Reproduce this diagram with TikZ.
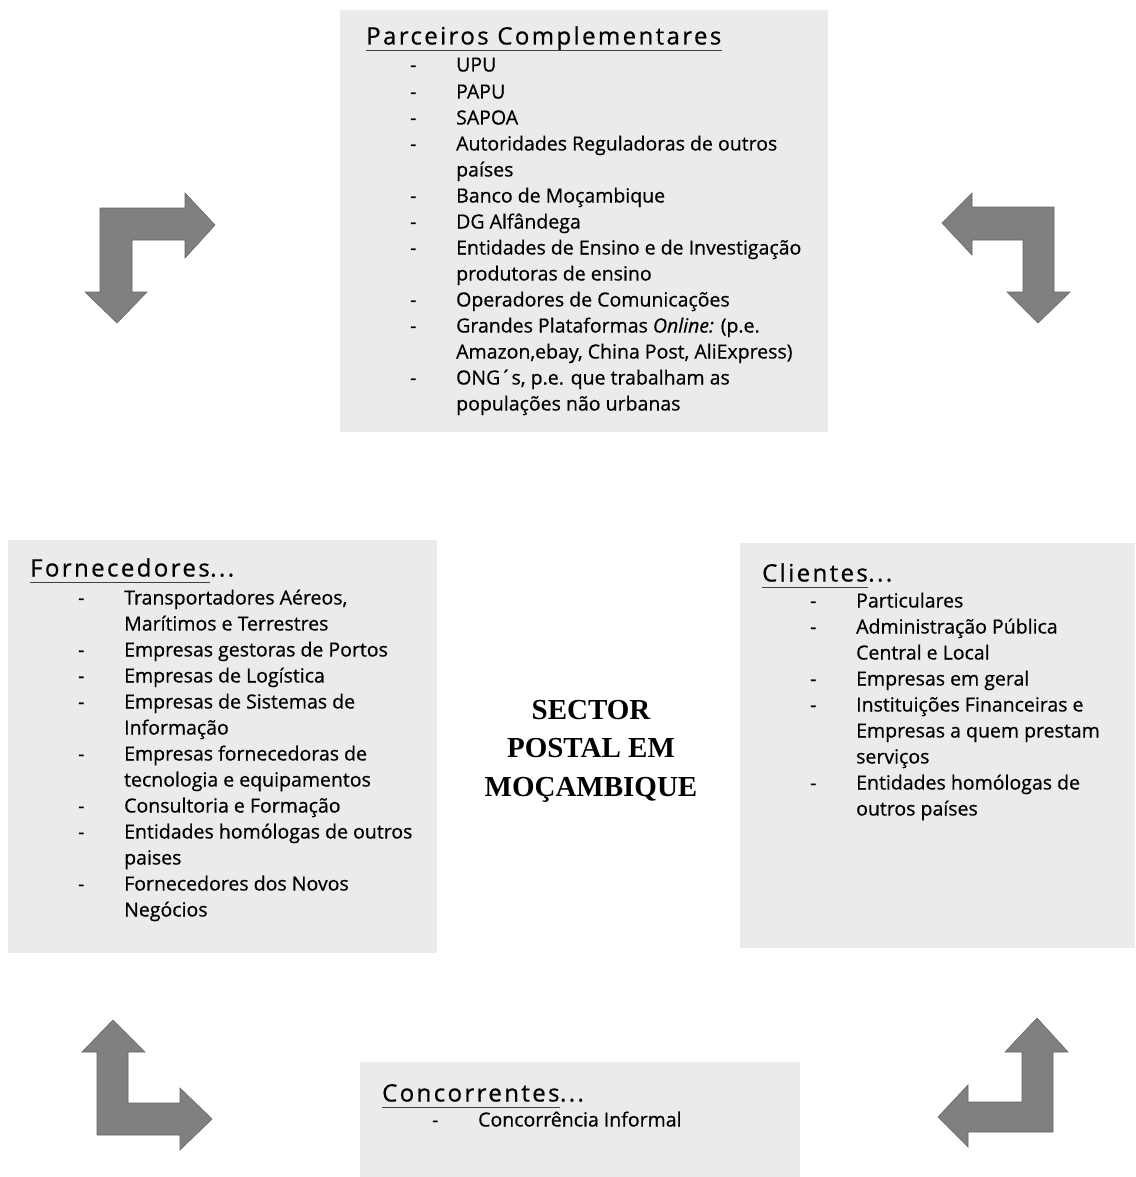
\documentclass[tikz,border=0pt]{standalone}
\usepackage{fontspec}
\setmainfont[FakeBold=0.6]{Open Sans}
\newfontfamily\headfont[LetterSpace=10,FakeBold=0.6]{Open Sans}
\newfontfamily\centerfont{Liberation Serif}
\begin{document}
\begin{tikzpicture}[x=1pt,y=-1pt,
  box/.style={fill=boxgray, draw=none, anchor=north west, inner sep=0pt},
  itm/.style={anchor=west, inner sep=0pt, font=\fontsize{19.5}{22}\selectfont, text height=14pt, text depth=5pt},
  head/.style={anchor=west, inner sep=0pt, font=\headfont\fontsize{24}{28}\selectfont, text height=18pt, text depth=5pt},
  uline/.style={draw=black!75, line width=0.9pt},
  bendarrow/.style={fill=arrowgray, draw=arrowgray!80!black, line width=0.6pt, line join=miter}
]
\definecolor{boxgray}{HTML}{EBEBEB}
\definecolor{arrowgray}{HTML}{808080}
\useasboundingbox (0,0) rectangle (1135,1177);
\fill[white] (0,0) rectangle (1135,1177);

% boxes
\node[box, minimum width=488pt, minimum height=422pt] (topbox) at (340,10) {};
\node[box, minimum width=429pt, minimum height=413pt] (leftbox) at (8,540) {};
\node[box, minimum width=395pt, minimum height=405pt] (rightbox) at (740,543) {};
\node[box, minimum width=440pt, minimum height=115pt] (botbox) at (360,1062) {};

% top box
\node[head] (h1) at (366,38) {Parceiros Complementares};
\draw[uline] ([yshift=-1pt]h1.south west) -- ([yshift=-1pt]h1.south east);
\foreach \y/\d/\t in {67/-/UPU, 94/-/PAPU, 120/-/SAPOA, 146/-/Autoridades Reguladoras de outros, 172//países, 198/-/Banco de Moçambique, 224/-/DG Alfândega, 250/-/Entidades de Ensino e de Investigação, 276//produtoras de ensino, 302/-/Operadores de Comunicações, 328/-/{Grandes Plataformas \textit{Online:} (p.e.}, 354//{Amazon,ebay, China Post, AliExpress)}, 380/-/{ONG´s, p.e. que trabalham as}, 406//populações não urbanas}{
  \node[itm] at (410,\y) {\d};
  \node[itm] at (456,\y) {\t};
}

% left box
\node[head] (h2) at (30,570) {Fornecedores};
\node[head, anchor=base west] at (h2.base east) {...};
\draw[uline] ([yshift=-1pt]h2.south west) -- ([yshift=-1pt]h2.south east);
\foreach \y/\d/\t in {600/-/{Transportadores Aéreos,}, 626//Marítimos e Terrestres, 652/-/Empresas gestoras de Portos, 678/-/Empresas de Logística, 704/-/Empresas de Sistemas de, 730//Informação, 756/-/Empresas fornecedoras de, 782//tecnologia e equipamentos, 808/-/Consultoria e Formação, 834/-/Entidades homólogas de outros, 860//paises, 886/-/Fornecedores dos Novos, 912//Negócios}{
  \node[itm] at (78,\y) {\d};
  \node[itm] at (124,\y) {\t};
}

% right box
\node[head] (h3) at (762,575) {Clientes};
\node[head, anchor=base west] at (h3.base east) {...};
\draw[uline] ([yshift=-1pt]h3.south west) -- ([yshift=-1pt]h3.south east);
\foreach \y/\d/\t in {603/-/Particulares, 629/-/Administração Pública, 655//Central e Local, 681/-/Empresas em geral, 707/-/Instituições Financeiras e, 733//Empresas a quem prestam, 759//serviços, 785/-/Entidades homólogas de, 811//outros países}{
  \node[itm] at (810,\y) {\d};
  \node[itm] at (856,\y) {\t};
}

% bottom box
\node[head] (h4) at (382,1095) {Concorrentes};
\node[head, anchor=base west] at (h4.base east) {...};
\draw[uline] ([yshift=-1pt]h4.south west) -- ([yshift=-1pt]h4.south east);
\node[itm] at (432,1122) {-};
\node[itm] (c1) at (478,1122) {Concorrência Informal};

% centre
\node[align=center, font=\centerfont\bfseries\fontsize{29}{38.5}\selectfont] (centre) at (591,751) {SECTOR\\POSTAL EM\\MOÇAMBIQUE};

% bent arrows
\draw[bendarrow] (117,323) -- (147,292) -- (132,292) -- (132,240) -- (185,240) -- (185,258) -- (215,225) -- (185,193) -- (185,208) -- (100,208) -- (100,292) -- (85,292) -- cycle;
\draw[bendarrow] (1038,323) -- (1007,292) -- (1023,292) -- (1023,240) -- (972,240) -- (972,255) -- (942,223) -- (972,193) -- (972,207) -- (1054,207) -- (1054,292) -- (1070,292) -- cycle;
\draw[bendarrow] (113,1020) -- (145,1052) -- (128,1052) -- (128,1103) -- (180,1103) -- (180,1088) -- (212,1119) -- (180,1150) -- (180,1135) -- (97,1135) -- (97,1052) -- (82,1052) -- cycle;
\draw[bendarrow] (1037,1018) -- (1068,1052) -- (1053,1052) -- (1053,1132) -- (968,1132) -- (968,1147) -- (938,1117) -- (968,1085) -- (968,1102) -- (1022,1102) -- (1022,1052) -- (1005,1052) -- cycle;
\end{tikzpicture}
\end{document}
